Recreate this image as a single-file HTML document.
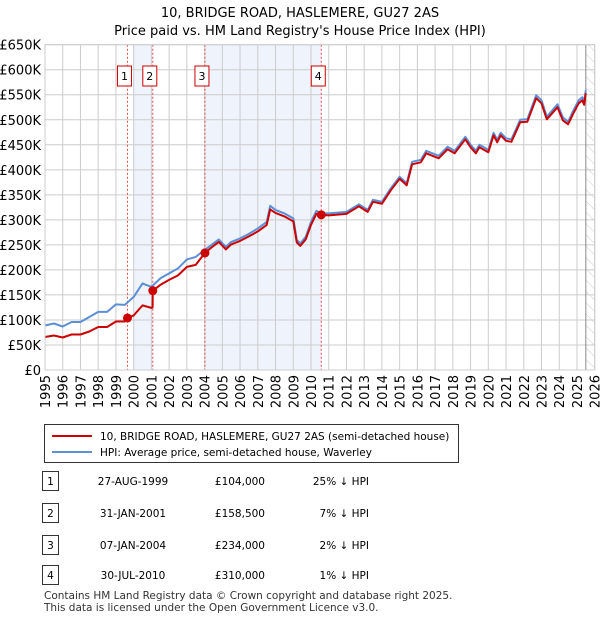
<!DOCTYPE html>
<html><head><meta charset="utf-8"><style>
body{margin:0;background:#fff;font-family:"Liberation Sans","DejaVu Sans",sans-serif;}
svg text{font-family:"DejaVu Sans","Liberation Sans",sans-serif;}
</style></head><body>
<svg id="c" width="600" height="620" xmlns="http://www.w3.org/2000/svg">
<text x="300" y="17" text-anchor="middle" font-size="13">10, BRIDGE ROAD, HASLEMERE, GU27 2AS</text>
<text x="300" y="35" text-anchor="middle" font-size="13">Price paid vs. HM Land Registry's House Price Index (HPI)</text>
<defs><pattern id="hatch" width="8" height="8" patternUnits="userSpaceOnUse" patternTransform="rotate(-45)"><line x1="0" y1="0" x2="0" y2="8" stroke="#ccc" stroke-width="1"/></pattern></defs>
<g id="plot"></g>
<g>
<rect x="44.5" y="424.5" width="414" height="38" fill="#fff" stroke="#333"/>
<line x1="52" y1="436" x2="92" y2="436" stroke="#cc0000" stroke-width="2"/>
<text x="100" y="440" font-size="10.5">10, BRIDGE ROAD, HASLEMERE, GU27 2AS (semi-detached house)</text>
<line x1="52" y1="452" x2="92" y2="452" stroke="#5b8fd6" stroke-width="2"/>
<text x="100" y="456" font-size="10.5">HPI: Average price, semi-detached house, Waverley</text>
</g>
<g id="tbl" font-size="10.5"></g>
<text x="44" y="599" font-size="10.5" fill="#333">Contains HM Land Registry data © Crown copyright and database right 2025.</text>
<text x="44" y="611" font-size="10.5" fill="#333">This data is licensed under the Open Government Licence v3.0.</text>
</svg>
<script>
const hpiYears=[1995,1995.5,1996,1996.5,1997,1997.5,1998,1998.5,1999,1999.5,2000,2000.5,2001,2001.5,2002,2002.5,2003,2003.5,2004,2004.5,2004.8,2005.2,2005.5,2006,2006.5,2007,2007.5,2007.7,2008,2008.5,2009,2009.2,2009.4,2009.7,2010,2010.3,2010.58,2011,2012,2012.7,2013.2,2013.5,2014,2014.5,2015,2015.4,2015.7,2016.2,2016.5,2017.2,2017.7,2018.1,2018.7,2019,2019.3,2019.5,2020,2020.3,2020.5,2020.7,2021,2021.3,2021.8,2022.2,2022.7,2023,2023.3,2023.9,2024.2,2024.5,2024.8,2025.1,2025.3,2025.4,2025.5];
const hpiValues=[89,93,87,96,96,106,116,116,131,130,146,173,166,183,193,203,221,226,240,253,261,246,256,263,272,283,296,328,320,313,303,260,253,266,296,318,313,313,316,331,320,340,336,363,386,373,416,420,438,428,446,438,466,450,438,450,440,474,460,474,463,461,500,501,549,539,506,531,505,496,519,539,545,536,559];
const redYears=[1995,1995.5,1996,1996.5,1997,1997.5,1998,1998.5,1999,1999.5,1999.65,2000,2000.5,2001,2001.07,2001.08,2001.5,2002,2002.5,2003,2003.5,2004.02,2004.5,2004.8,2005.2,2005.5,2006,2006.5,2007,2007.5,2007.7,2008,2008.5,2009,2009.2,2009.4,2009.7,2010,2010.3,2010.58,2011,2012,2012.7,2013.2,2013.5,2014,2014.5,2015,2015.4,2015.7,2016.2,2016.5,2017.2,2017.7,2018.1,2018.7,2019,2019.3,2019.5,2020,2020.3,2020.5,2020.7,2021,2021.3,2021.8,2022.2,2022.7,2023,2023.3,2023.9,2024.2,2024.5,2024.8,2025.1,2025.3,2025.4,2025.5];
const redValues=[66,69,65,71,71,77,86,86,97,97,104,109,129,124,125,158.5,170,180,189,206,210,234,248,256,241,251,258,267,277,290,321,314,307,297,255,248,261,290,312,310,309,312,327,316,336,332,359,382,369,411,415,433,423,441,433,461,445,433,445,435,469,455,469,458,456,495,496,543,533,501,525,499,491,513,533,539,530,553];
const saleYears=[1999.65,2001.08,2004.02,2010.58];
const salePrices=[104,158.5,234,310];
const saleLabels=["1","2","3","4"];
const saleDates=["27-AUG-1999","31-JAN-2001","07-JAN-2004","30-JUL-2010"];
const salePriceText=["£104,000","£158,500","£234,000","£310,000"];
const saleHpiText=["25% ↓ HPI","7% ↓ HPI","2% ↓ HPI","1% ↓ HPI"];
const yTicks=[0,50,100,150,200,250,300,350,400,450,500,550,600,650];
const yTickLabels=["£0","£50K","£100K","£150K","£200K","£250K","£300K","£350K","£400K","£450K","£500K","£550K","£600K","£650K"];
const NS="http://www.w3.org/2000/svg";
const X0=45,X1=594.7,Y0=370,Y1=44.7;
const xs=y=>X0+(y-1995)/31*(X1-X0);
const ys=v=>Y0-v/650*(Y0-Y1);
function mk(p,t,a){const e=document.createElementNS(NS,t);for(const k in a)e.setAttribute(k,a[k]);p.appendChild(e);return e;}
const g=document.getElementById('plot');
let r=mk(g,'rect',{x:xs(2000),y:Y1,width:xs(saleYears[1])-xs(2000),height:Y0-Y1,fill:'#eef3fc'});

r=mk(g,'rect',{x:xs(2004),y:Y1,width:xs(saleYears[3])-xs(2004),height:Y0-Y1,fill:'#eef3fc'});

r=mk(g,'rect',{x:xs(2025.5),y:Y1,width:X1-xs(2025.5),height:Y0-Y1,fill:'url(#hatch)'});

yTicks.forEach((v,i)=>{
 let l=mk(g,'line',{x1:X0,x2:X1,y1:ys(v),y2:ys(v),stroke:'#ccc'});
 
 let t=mk(g,'text',{x:41,y:ys(v)+5,'text-anchor':'end','font-size':13});t.textContent=yTickLabels[i];
 
});
for(let y=1995;y<=2026;y++){
 let l=mk(g,'line',{x1:xs(y),x2:xs(y),y1:Y1,y2:Y0,stroke:'#ccc'});
 
 let t=mk(g,'text',{x:0,y:0,'text-anchor':'end','font-size':13,transform:`translate(${xs(y)+5},${Y0+5}) rotate(-90)`});t.textContent=y;
 
}
let vl=mk(g,'line',{x1:xs(2025.5),x2:xs(2025.5),y1:Y1,y2:Y0,stroke:'#888'});

saleYears.forEach((s,i)=>{
 let l=mk(g,'line',{x1:xs(s),x2:xs(s),y1:Y1,y2:Y0,stroke:'#e05050','stroke-dasharray':'2,2'});
 
 let b=mk(g,'rect',{x:xs(s)-10,y:66,width:14,height:20,fill:'#fff',stroke:'#cc0000'});
 
 let t=mk(g,'text',{x:xs(s)-3,y:80,'text-anchor':'middle','font-size':11});t.textContent=saleLabels[i];
 
});
const pts=(xa,va)=>xa.map((y,i)=>xs(y).toFixed(1)+','+ys(va[i]).toFixed(1)).join(' ');
let hp=mk(g,'polyline',{points:pts(hpiYears,hpiValues),fill:'none',stroke:'#5b8fd6','stroke-width':2,'stroke-linejoin':'round'});

let rp=mk(g,'polyline',{points:pts(redYears,redValues),fill:'none',stroke:'#cc0000','stroke-width':2,'stroke-linejoin':'round'});

saleYears.forEach((s,i)=>{
 let c=mk(g,'circle',{cx:xs(s),cy:ys(salePrices[i]),r:4.5,fill:'#cc0000'});
 
});
let fr=mk(g,'rect',{x:X0,y:Y1,width:X1-X0,height:Y0-Y1,fill:'none',stroke:'#ccc'});

const tb=document.getElementById('tbl');
const rowY=[482,514,546,576];
saleYears.forEach((s,i)=>{
 const y=rowY[i];
 let b=mk(tb,'rect',{x:42.5,y:y-10.5,width:16,height:19,fill:'#fff',stroke:'#333'});
 
 let t=mk(tb,'text',{x:50.5,y:y+3,'text-anchor':'middle'});t.textContent=saleLabels[i];
 
 t=mk(tb,'text',{x:133,y:y+3,'text-anchor':'middle'});t.textContent=saleDates[i];
 
 t=mk(tb,'text',{x:265,y:y+3,'text-anchor':'end'});t.textContent=salePriceText[i];
 
 t=mk(tb,'text',{x:369,y:y+3,'text-anchor':'end'});t.textContent=saleHpiText[i];
 
});
</script>
</body></html>
